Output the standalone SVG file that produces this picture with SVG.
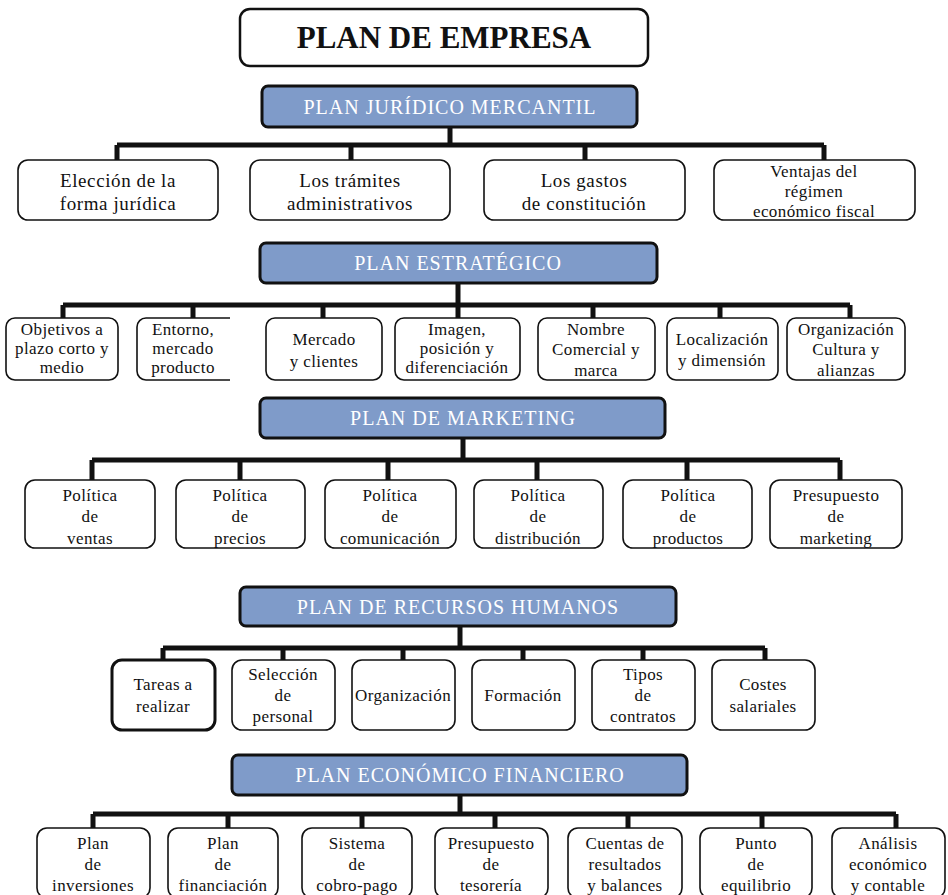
<svg xmlns="http://www.w3.org/2000/svg" width="948" height="895" viewBox="0 0 948 895">
<style>
text{font-family:"Liberation Serif","Times New Roman",serif;text-anchor:middle;fill:#111}
.t{font-size:17px;letter-spacing:0.4px}
.r1{font-size:19px;letter-spacing:0.6px}
.h rect{fill:#7f9bc9;stroke:#111;stroke-width:3}
.h text{fill:#fff;font-size:20px;letter-spacing:1px}
.n rect,.n path{fill:#fff;stroke:#111;stroke-width:1.6}
.c{stroke:#111;stroke-width:5;fill:none}
</style>
<rect width="948" height="895" fill="#fff"/>
<g id="title"><rect x="240" y="9" width="408" height="57" rx="10" fill="#fff" stroke="#111" stroke-width="2.5"/><text x="444" y="48" font-size="31" font-weight="bold">PLAN DE EMPRESA</text></g>

<g id="connectors" class="c">
<path d="M450 127V145M117 145H824M117 145V160M351 145V160M585 145V160M824 145V160"/>
<path d="M458 283V305M63 305H850M63 305V318M193 305V318M323 305V318M458 305V318M593 305V318M720 305V318M850 305V318"/>
<path d="M463 438V460M92 460H840M92 460V480M240 460V480M388 460V480M537 460V480M687 460V480M840 460V480"/>
<path d="M460 626V648M163 648H765M163 648V660M283 648V660M403 648V660M523 648V660M643 648V660M765 648V660"/>
<path d="M460 795V814M93 814H896M93 814V828M228 814V828M362 814V828M495 814V828M628 814V828M762 814V828M896 814V828"/>
</g>

<g id="h1" class="h"><rect x="262" y="86" width="375" height="41" rx="6"/><text x="450" y="114">PLAN JURÍDICO MERCANTIL</text></g>
<g id="n1a" class="n r1"><rect x="18" y="160" width="200" height="60" rx="10"/><text x="118" y="187">Elección de la</text><text x="118" y="210">forma jurídica</text></g>
<g id="n1b" class="n r1"><rect x="250" y="160" width="200" height="60" rx="10"/><text x="350" y="187">Los trámites</text><text x="350" y="210">administrativos</text></g>
<g id="n1c" class="n r1"><rect x="484" y="160" width="201" height="60" rx="10"/><text x="584" y="187">Los gastos</text><text x="584" y="210">de constitución</text></g>
<g id="n1d" class="n t"><rect x="714" y="160" width="201" height="60" rx="10"/><text x="814" y="177">Ventajas del</text><text x="814" y="197">régimen</text><text x="814" y="217">económico fiscal</text></g>

<g id="h2" class="h"><rect x="260" y="243" width="397" height="40" rx="6"/><text x="458" y="270">PLAN ESTRATÉGICO</text></g>
<g id="n2a" class="n t"><rect x="6" y="318" width="112" height="62" rx="9"/><text x="62" y="335">Objetivos a</text><text x="62" y="354">plazo corto y</text><text x="62" y="373">medio</text></g>
<g id="n2b" class="n t"><path d="M230 318H146a9 9 0 0 0-9 9v44a9 9 0 0 0 9 9H230"/><text x="183" y="335">Entorno,</text><text x="183" y="354">mercado</text><text x="183" y="373">producto</text></g>
<g id="n2c" class="n t"><rect x="266" y="318" width="116" height="62" rx="9"/><text x="324" y="345">Mercado</text><text x="324" y="367">y clientes</text></g>
<g id="n2d" class="n t"><rect x="395" y="318" width="125" height="62" rx="9"/><text x="457" y="335">Imagen,</text><text x="457" y="354">posición y</text><text x="457" y="373">diferenciación</text></g>
<g id="n2e" class="n t"><rect x="538" y="318" width="117" height="62" rx="9"/><text x="596" y="335">Nombre</text><text x="596" y="355">Comercial y</text><text x="596" y="376">marca</text></g>
<g id="n2f" class="n t"><rect x="667" y="318" width="111" height="62" rx="9"/><text x="722" y="345">Localización</text><text x="722" y="366">y dimensión</text></g>
<g id="n2g" class="n t"><rect x="787" y="318" width="118" height="62" rx="9"/><text x="846" y="335">Organización</text><text x="846" y="355">Cultura y</text><text x="846" y="376">alianzas</text></g>

<g id="h3" class="h"><rect x="260" y="398" width="405" height="40" rx="6"/><text x="463" y="425">PLAN DE MARKETING</text></g>
<g id="n3a" class="n t"><rect x="25" y="480" width="130" height="68" rx="10"/><text x="90" y="501">Política</text><text x="90" y="522">de</text><text x="90" y="544">ventas</text></g>
<g id="n3b" class="n t"><rect x="176" y="480" width="129" height="68" rx="10"/><text x="240" y="501">Política</text><text x="240" y="522">de</text><text x="240" y="544">precios</text></g>
<g id="n3c" class="n t"><rect x="325" y="480" width="131" height="68" rx="10"/><text x="390" y="501">Política</text><text x="390" y="522">de</text><text x="390" y="544">comunicación</text></g>
<g id="n3d" class="n t"><rect x="474" y="480" width="129" height="68" rx="10"/><text x="538" y="501">Política</text><text x="538" y="522">de</text><text x="538" y="544">distribución</text></g>
<g id="n3e" class="n t"><rect x="623" y="480" width="129" height="68" rx="10"/><text x="688" y="501">Política</text><text x="688" y="522">de</text><text x="688" y="544">productos</text></g>
<g id="n3f" class="n t"><rect x="770" y="480" width="132" height="68" rx="10"/><text x="836" y="501">Presupuesto</text><text x="836" y="522">de</text><text x="836" y="544">marketing</text></g>

<g id="h4" class="h"><rect x="240" y="587" width="436" height="39" rx="6"/><text x="458" y="614">PLAN DE RECURSOS HUMANOS</text></g>
<g id="n4a" class="n t"><rect x="112" y="660" width="103" height="70" rx="10" style="stroke-width:3"/><text x="163" y="690">Tareas a</text><text x="163" y="712">realizar</text></g>
<g id="n4b" class="n t"><rect x="232" y="660" width="103" height="70" rx="10"/><text x="283" y="680">Selección</text><text x="283" y="701">de</text><text x="283" y="722">personal</text></g>
<g id="n4c" class="n t"><rect x="352" y="660" width="103" height="70" rx="10"/><text x="403" y="701">Organización</text></g>
<g id="n4d" class="n t"><rect x="472" y="660" width="103" height="70" rx="10"/><text x="523" y="701">Formación</text></g>
<g id="n4e" class="n t"><rect x="592" y="660" width="103" height="70" rx="10"/><text x="643" y="680">Tipos</text><text x="643" y="701">de</text><text x="643" y="722">contratos</text></g>
<g id="n4f" class="n t"><rect x="712" y="660" width="103" height="70" rx="10"/><text x="763" y="690">Costes</text><text x="763" y="712">salariales</text></g>

<g id="h5" class="h"><rect x="232" y="755" width="455" height="40" rx="6"/><text x="460" y="782">PLAN ECONÓMICO FINANCIERO</text></g>
<g id="n5a" class="n t"><rect x="37" y="828" width="113" height="70" rx="10"/><text x="93" y="849">Plan</text><text x="93" y="870">de</text><text x="93" y="891">inversiones</text></g>
<g id="n5b" class="n t"><rect x="168" y="828" width="110" height="70" rx="10"/><text x="223" y="849">Plan</text><text x="223" y="870">de</text><text x="223" y="891">financiación</text></g>
<g id="n5c" class="n t"><rect x="302" y="828" width="110" height="70" rx="10"/><text x="357" y="849">Sistema</text><text x="357" y="870">de</text><text x="357" y="891">cobro-pago</text></g>
<g id="n5d" class="n t"><rect x="435" y="828" width="113" height="70" rx="10"/><text x="491" y="849">Presupuesto</text><text x="491" y="870">de</text><text x="491" y="891">tesorería</text></g>
<g id="n5e" class="n t"><rect x="568" y="828" width="114" height="70" rx="10"/><text x="625" y="849">Cuentas de</text><text x="625" y="870">resultados</text><text x="625" y="891">y balances</text></g>
<g id="n5f" class="n t"><rect x="700" y="828" width="112" height="70" rx="10"/><text x="756" y="849">Punto</text><text x="756" y="870">de</text><text x="756" y="891">equilibrio</text></g>
<g id="n5g" class="n t"><rect x="832" y="828" width="113" height="70" rx="10"/><text x="888" y="849">Análisis</text><text x="888" y="870">económico</text><text x="888" y="891">y contable</text></g>
</svg>
